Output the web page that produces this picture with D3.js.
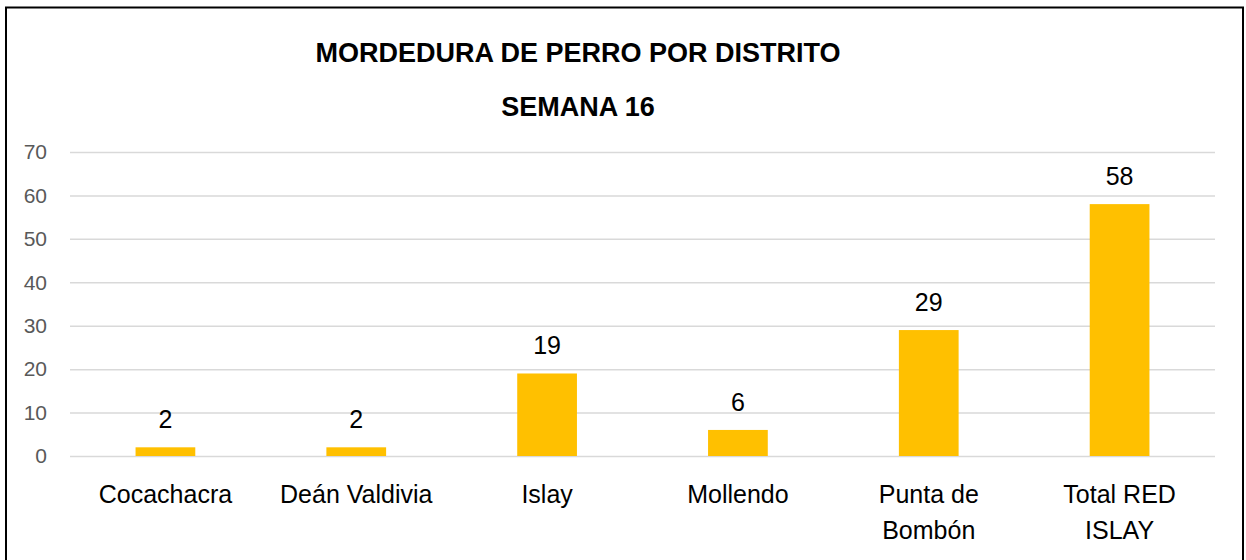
<!DOCTYPE html>
<html>
<head>
<meta charset="utf-8">
<script src="https://cdn.jsdelivr.net/npm/d3@7"></script>
<style>
  body { margin: 0; background: #fff; }
  svg { display: block; font-family: "Liberation Sans", Arial, sans-serif; }
</style>
</head>
<body>
<svg id="chart"></svg>
<script>
const titleLines = ["MORDEDURA DE PERRO POR DISTRITO", "SEMANA 16"];
const districts = ["Cocachacra", "Deán Valdivia", "Islay", "Mollendo", "Punta de Bombón", "Total RED ISLAY"];
const bites = [2, 2, 19, 6, 29, 58];
const yTicks = [0, 10, 20, 30, 40, 50, 60, 70];

const width = 1246;
const height = 560;
const margin = {left: 70, right: 31, top: 152, bottom: 104};

const svg = d3.select("#chart")
    .attr("width", width)
    .attr("height", height);

// chart border (runs off the bottom like the original)
svg.append("rect")
    .attr("x", 6)
    .attr("y", 7.5)
    .attr("width", 1237)
    .attr("height", 600)
    .attr("fill", "none")
    .attr("stroke", "#000")
    .attr("stroke-width", 2);

// title
svg.append("text")
    .attr("x", 578)
    .attr("y", 62)
    .attr("text-anchor", "middle")
    .style("font-size", "27px")
    .style("font-weight", "bold")
    .selectAll("tspan")
    .data(titleLines)
    .enter()
    .append("tspan")
    .attr("x", 578)
    .attr("dy", (d, i) => i === 0 ? 0 : 54)
    .text(d => d);

const x = d3.scaleBand()
    .domain(districts)
    .range([margin.left, width - margin.right])
    .paddingInner(0.687)
    .paddingOuter(0.3435);

const y = d3.scaleLinear()
    .domain([0, 70])
    .range([height - margin.bottom, margin.top]);

// gridlines + y labels
const yAxis = d3.axisLeft(y)
    .tickValues(yTicks)
    .tickSize(-(width - margin.left - margin.right))
    .tickPadding(23);

const gy = svg.append("g")
    .attr("transform", `translate(${margin.left},0)`)
    .call(yAxis);

gy.select(".domain").remove();
gy.selectAll(".tick line")
    .attr("stroke", "#d9d9d9")
    .attr("stroke-width", 1.5);
gy.selectAll(".tick text")
    .attr("fill", "#595959")
    .style("font-size", "21px")
    .style("font-family", "Liberation Sans, Arial, sans-serif");

// bars
svg.selectAll(".bar")
    .data(bites)
    .enter()
    .append("rect")
    .attr("class", "bar")
    .attr("x", (d, i) => x(districts[i]))
    .attr("y", d => y(d))
    .attr("width", x.bandwidth())
    .attr("height", d => y(0) - y(d))
    .attr("fill", "#ffc000");

// value labels
svg.selectAll(".val")
    .data(bites)
    .enter()
    .append("text")
    .attr("class", "val")
    .attr("x", (d, i) => x(districts[i]) + x.bandwidth() / 2)
    .attr("y", d => y(d) - 19)
    .attr("text-anchor", "middle")
    .style("font-size", "25px")
    .attr("fill", "#000")
    .text(d => d);

// x axis labels, wrapped like the original
const xAxis = d3.axisBottom(x).tickSize(0).tickPadding(0);
const gx = svg.append("g")
    .attr("transform", `translate(0,${y(0)})`)
    .call(xAxis);
gx.select(".domain").remove();
gx.selectAll(".tick text")
    .attr("fill", "#000")
    .style("font-size", "25px")
    .style("font-family", "Liberation Sans, Arial, sans-serif")
    .call(wrap, x.step() - 8);

function wrap(sel, maxWidth) {
    sel.each(function() {
        const text = d3.select(this);
        const words = text.text().split(/\s+/);
        text.text(null).attr("y", 0).attr("dy", null);
        let lines = [];
        let line = [];
        const probe = text.append("tspan");
        words.forEach(w => {
            line.push(w);
            probe.text(line.join(" "));
            if (probe.node().getComputedTextLength() > maxWidth && line.length > 1) {
                line.pop();
                lines.push(line.join(" "));
                line = [w];
            }
        });
        lines.push(line.join(" "));
        probe.remove();
        lines.forEach((l, i) => {
            text.append("tspan")
                .attr("x", 0)
                .attr("y", 47 + i * 36)
                .text(l);
        });
    });
}
</script>
</body>
</html>
